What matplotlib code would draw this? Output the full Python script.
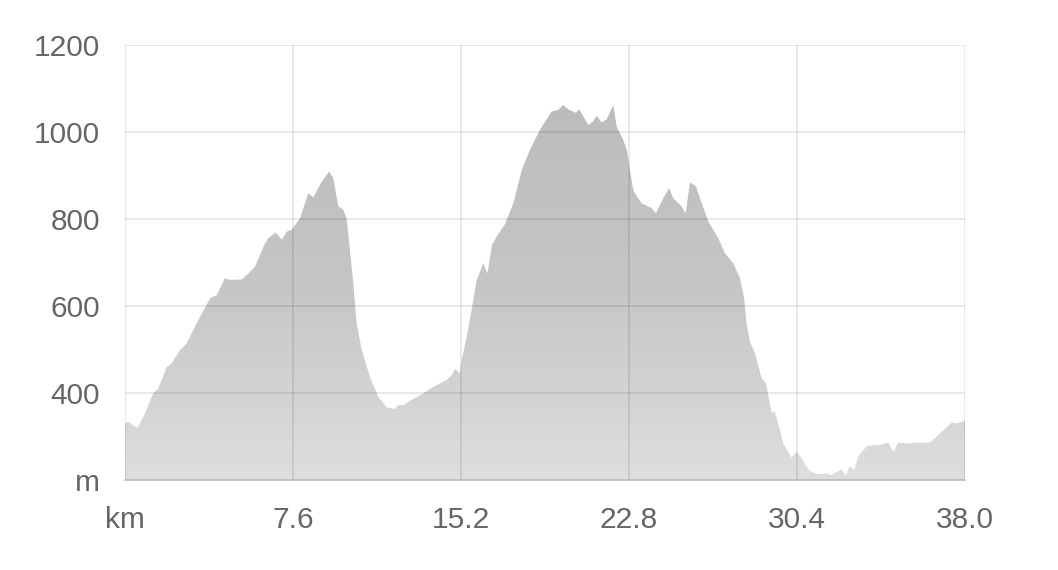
import matplotlib
matplotlib.use("Agg")
import matplotlib.pyplot as plt
import numpy as np
from matplotlib.colors import LinearSegmentedColormap

plt.rcParams['font.family'] = ['Liberation Sans', 'DejaVu Sans']

# Distance along route (km)
distance_km = [
    0.00, 0.15, 0.56, 0.83, 1.28, 1.51, 1.89, 2.11, 2.49, 2.79, 3.24, 3.85, 4.15, 4.52, 4.75,
    5.28, 5.51, 5.88, 6.26, 6.48, 6.82, 7.09, 7.32, 7.54, 7.92, 8.29, 8.52, 8.90, 9.24, 9.42,
    9.65, 9.88, 10.03, 10.33, 10.48, 10.71, 11.08, 11.46, 11.84, 12.21, 12.36, 12.59, 12.89,
    13.49, 13.95, 14.55, 14.78, 14.93, 15.15, 15.23, 15.46, 15.68, 15.91, 16.21, 16.40, 16.60,
    16.82, 17.19, 17.57, 17.95, 18.32, 18.77, 19.30, 19.60, 19.83, 20.05, 20.40, 20.55, 20.96,
    21.16, 21.34, 21.56, 21.79, 22.09, 22.24, 22.39, 22.54, 22.70, 22.77, 22.99, 23.07, 23.37,
    23.83, 24.02, 24.35, 24.62, 24.80, 25.18, 25.36, 25.56, 25.83, 26.09, 26.39, 26.84, 27.14,
    27.52, 27.82, 28.00, 28.12, 28.27, 28.50, 28.80, 29.00, 29.26, 29.37, 29.55, 29.78, 30.16,
    30.39, 30.61, 30.91, 31.29, 31.74, 31.97, 32.42, 32.60, 32.77, 32.99, 33.17, 33.55, 33.85,
    34.08, 34.53, 34.76, 34.98, 35.36, 35.81, 36.42, 36.87, 37.40, 37.62, 38.00,
]

# Elevation (m)
elevation_m = [
    330, 334, 319, 345, 399, 411, 460, 468, 499, 514, 560, 618, 625, 664, 660,
    661, 671, 690, 736, 756, 769, 752, 771, 775, 802, 859, 850, 886, 909, 894,
    829, 821, 800, 652, 560, 499, 437, 391, 367, 363, 372, 372, 382,
    399, 414, 430, 441, 455, 445, 476, 529, 591, 660, 698, 675, 740,
    760, 788, 836, 913, 959, 1005, 1047, 1051, 1062, 1052, 1044, 1052, 1016,
    1024, 1037, 1022, 1029, 1062, 1013, 997, 982, 959, 936, 867, 859, 836,
    825, 813, 848, 871, 848, 829, 813, 884, 875, 836, 794, 756, 721,
    698, 664, 621, 560, 518, 491, 434, 422, 353, 359, 330, 284, 251,
    265, 250, 224, 213, 215, 211, 225, 209, 232, 223, 254, 277, 280,
    280, 286, 265, 286, 284, 286, 286, 307, 332, 330, 336,
]

x_ticks = [0, 7.6, 15.2, 22.8, 30.4, 38.0]
x_tick_labels = ["km", "7.6", "15.2", "22.8", "30.4", "38.0"]
y_ticks = [200, 400, 600, 800, 1000, 1200]
y_tick_labels = ["m", "400", "600", "800", "1000", "1200"]

fig = plt.figure(figsize=(10.58, 5.70), dpi=100)
ax = fig.add_axes([125 / 1058, 1 - 480 / 570, 840 / 1058, 435 / 570])
ax.set_xlim(0, 38)
ax.set_ylim(200, 1200)

# gradient fill clipped to the elevation polygon
poly = ax.fill_between(distance_km, elevation_m, 200, color='none', linewidth=0)
cmap = LinearSegmentedColormap.from_list('g', ['#dedede', '#c6c6c6', '#bcbcbc'])
grad = np.linspace(0, 1, 256).reshape(-1, 1)
im = ax.imshow(grad, extent=[0, 38, 200, 1070], origin='lower', aspect='auto',
               cmap=cmap, zorder=1)
path = poly.get_paths()[0]
im.set_clip_path(path, transform=ax.transData)
ax.set_xlim(0, 38)
ax.set_ylim(200, 1200)

# grid over the fill
for xv in x_ticks:
    ax.axvline(xv, color='black', alpha=0.1, lw=1.2, zorder=3)
for yv in y_ticks:
    ax.axhline(yv, color='black', alpha=0.1, lw=1.2, zorder=3)

for s in ['top', 'right', 'left']:
    ax.spines[s].set_visible(False)
ax.spines['bottom'].set_color('#bdbdbd')
ax.spines['bottom'].set_linewidth(1.2)
ax.spines['bottom'].set_zorder(4)

ax.set_xticks(x_ticks)
ax.set_xticklabels(x_tick_labels)
ax.set_yticks(y_ticks)
ax.set_yticklabels(y_tick_labels)
ax.tick_params(axis='both', length=0, labelsize=21.5, labelcolor='#666666')
ax.tick_params(axis='y', pad=18)
ax.tick_params(axis='x', pad=19)

fig.savefig('out.png', dpi=100)
